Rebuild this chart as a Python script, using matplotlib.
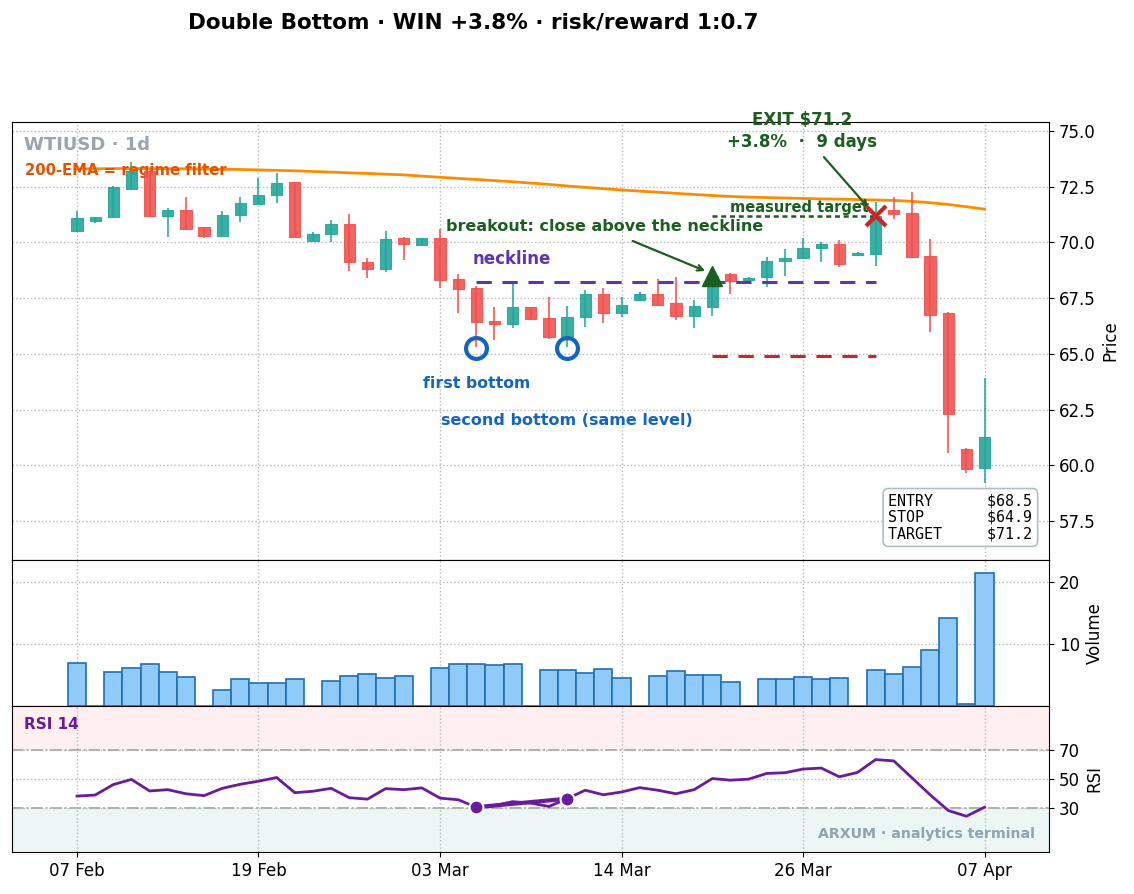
import matplotlib
matplotlib.use("Agg")
import matplotlib.pyplot as plt
import numpy as np

# ---------------- data ----------------
tick_pos = [0, 10, 20, 30, 40, 50]
tick_labels = ['07 Feb', '19 Feb', '03 Mar', '14 Mar', '26 Mar', '07 Apr']

opens = [70.51, 70.95, 71.13, 72.38, 73.22, 71.19, 71.46, 70.68, 70.29, 71.23,
         71.72, 72.13, 72.73, 70.08, 70.38, 70.83, 69.14, 68.81, 70.19, 69.89,
         70.21, 68.35, 67.94, 66.49, 66.34, 67.12, 66.60, 65.77, 66.67, 67.69,
         66.85, 67.42, 67.69, 67.27, 66.70, 67.12, 68.57, 68.33, 68.46, 69.18,
         69.32, 69.76, 69.92, 69.44, 69.48, 71.46, 71.31, 69.39, 66.82, 60.72,
         59.89]
highs = [71.42, 71.15, 72.52, 73.62, 73.25, 71.53, 72.03, 70.68, 71.41, 72.03,
         72.88, 73.10, 72.73, 70.46, 71.00, 71.26, 69.29, 70.51, 70.26, 70.21,
         70.59, 68.57, 68.05, 67.09, 68.19, 67.12, 67.57, 67.15, 67.87, 67.94,
         67.54, 67.79, 68.35, 68.46, 67.42, 68.55, 68.62, 68.45, 69.33, 69.69,
         70.21, 70.00, 70.11, 69.55, 71.80, 72.05, 72.28, 70.15, 66.89, 60.76,
         63.91]
lows = [70.50, 70.87, 71.10, 72.38, 71.19, 70.26, 70.55, 70.19, 70.29, 70.93,
        71.72, 71.76, 70.26, 70.05, 70.03, 68.73, 68.39, 68.66, 69.21, 69.89,
        67.94, 66.82, 65.32, 65.62, 66.15, 66.57, 65.65, 65.32, 66.19, 66.40,
        66.64, 67.42, 67.15, 66.52, 66.15, 66.70, 67.69, 68.32, 67.99, 68.51,
        69.24, 69.14, 68.91, 69.42, 68.94, 71.04, 69.30, 65.99, 60.54, 59.64,
        59.19]
closes = [71.08, 71.12, 72.50, 73.22, 71.19, 71.46, 70.60, 70.29, 71.25, 71.76,
          72.14, 72.68, 70.26, 70.38, 70.83, 69.11, 68.81, 70.14, 69.93, 70.21,
          68.32, 67.91, 66.42, 66.33, 67.09, 66.57, 65.77, 66.67, 67.69, 66.85,
          67.19, 67.69, 67.19, 66.70, 67.15, 68.50, 68.28, 68.42, 69.18, 69.29,
          69.76, 69.92, 69.02, 69.51, 71.20, 71.28, 69.33, 66.75, 62.30, 59.84,
          61.29]
ema200 = [73.30, 73.30, 73.31, 73.31, 73.31, 73.30, 73.30, 73.29, 73.28, 73.27,
          73.25, 73.23, 73.21, 73.18, 73.15, 73.12, 73.09, 73.06, 73.03, 72.97,
          72.92, 72.87, 72.82, 72.77, 72.72, 72.66, 72.60, 72.53, 72.47, 72.41,
          72.35, 72.30, 72.25, 72.20, 72.15, 72.10, 72.06, 72.03, 72.01, 71.99,
          71.97, 71.95, 71.94, 71.92, 71.90, 71.88, 71.84, 71.78, 71.70, 71.60,
          71.49]
volume = [6.9, 0.0, 5.4, 6.1, 6.7, 5.4, 4.6, 0.0, 2.5, 4.3,
          3.7, 3.7, 4.3, 0.0, 4.0, 4.8, 5.1, 4.5, 4.8, 0.0,
          6.1, 6.7, 6.7, 6.6, 6.7, 0.0, 5.8, 5.8, 5.3, 5.9,
          4.5, 0.0, 4.8, 5.6, 5.0, 5.0, 3.8, 0.0, 4.3, 4.3,
          4.6, 4.3, 4.5, 0.0, 5.8, 5.1, 6.2, 9.0, 14.1, 0.4,
          21.4]
rsi = [38.3, 39.0, 46.2, 49.7, 41.8, 42.7, 39.9, 38.6, 43.6, 46.4,
       48.5, 51.0, 40.6, 41.6, 43.6, 37.2, 36.2, 43.4, 42.7, 43.9,
       36.9, 35.8, 30.7, 31.8, 34.5, 33.5, 31.2, 36.5, 42.3, 39.2,
       41.1, 44.1, 42.3, 39.9, 42.7, 50.3, 49.2, 49.9, 53.8, 54.3,
       56.8, 57.5, 51.5, 54.5, 63.3, 62.4, 50.8, 39.2, 28.4, 24.5,
       30.7]

bottom_idx = [22, 27]
bottom_price = [65.27, 65.27]
neckline = 68.2
neck_start, neck_end = 22, 44
entry_idx, exit_idx = 35, 44
entry_price, stop_price, target_price = 68.5, 64.9, 71.2

# ---------------- figure ----------------
fig = plt.figure(figsize=(11.34, 8.94), dpi=100)
L, R = 12 / 1134, 1049 / 1134
def yf(p):
    return 1 - p / 894
ax = fig.add_axes([L, yf(560), R - L, yf(122) - yf(560)])
axv = fig.add_axes([L, yf(706), R - L, yf(560) - yf(706)], sharex=ax)
axr = fig.add_axes([L, yf(852), R - L, yf(706) - yf(852)], sharex=ax)

x = np.arange(len(closes))
o = np.array(opens); c = np.array(closes); h = np.array(highs); l = np.array(lows)
up = c >= o
GREEN, RED = '#26A69A', '#EF5350'
cols = [GREEN if u else RED for u in up]

grid_kw = dict(color='#b8b8b8', linestyle=':', linewidth=1.0)

# price panel
ax.plot(x, ema200, color='#FB8C00', lw=2.0, zorder=2)
ax.vlines(x, l, h, colors=cols, lw=1.5, alpha=0.8, zorder=3)
ax.bar(x, np.abs(c - o), bottom=np.minimum(o, c), width=0.62, color=cols,
       edgecolor=cols, lw=0.8, alpha=0.9, zorder=4)

ax.hlines(neckline, neck_start, neck_end, colors='#5E35B1', linestyles=(0, (5, 3.5)),
          lw=2.2, zorder=5)
ax.text(21.8, 69.26, 'neckline', color='#5E35B1', fontsize=12, fontweight='bold',
        ha='left', va='center')
ax.plot(bottom_idx, bottom_price, 'o', ms=15, mfc='none', mec='#1565C0', mew=3, zorder=6)
ax.text(22, 63.69, 'first bottom', color='#1565C0', fontsize=11.3, fontweight='bold',
        ha='center', va='center')
ax.text(27, 62.03, 'second bottom (same level)', color='#1565C0', fontsize=11.5,
        fontweight='bold', ha='center', va='center')

ax.hlines(stop_price, entry_idx, exit_idx, colors='#C62828', linestyles=(0, (5, 3.5)),
          lw=2.2, zorder=5)
ax.hlines(target_price, entry_idx, exit_idx, colors='#1B5E20', linestyles=(0, (2, 1.5)),
          lw=1.8, zorder=5)
ax.text(35.98, 71.55, 'measured target', color='#1B5E20', fontsize=10.5,
        fontweight='bold', ha='left', va='center')

ax.plot([entry_idx], [entry_price], '^', ms=14, color='#1B5E20', zorder=7)
ax.text(20.33, 70.69, 'breakout: close above the neckline', color='#1B5E20',
        fontsize=11.5, fontweight='bold', ha='left', va='center')
ax.annotate('', xy=(34.75, 68.67), xytext=(30.47, 70.11),
            arrowprops=dict(arrowstyle='->', color='#1B5E20', lw=1.6))

ax.plot([exit_idx], [target_price], 'x', ms=14, mew=3, color='#C62828', zorder=7)
ax.text(39.94, 74.98, 'EXIT $71.2\n+3.8%  ·  9 days', color='#1B5E20', fontsize=12,
        fontweight='bold', ha='center', va='center', multialignment='center',
        linespacing=1.3, clip_on=False, zorder=8)
ax.annotate('', xy=(43.7, 71.46), xytext=(41.05, 73.92),
            arrowprops=dict(arrowstyle='->', color='#1B5E20', lw=1.6))

ax.text(0.0116, 0.947, 'WTIUSD · 1d', transform=ax.transAxes, color='#9AA4AD',
        fontsize=13, fontweight='bold', ha='left', va='center')
ax.text(0.0125, 0.890, '200-EMA = regime filter', transform=ax.transAxes,
        color='#E65100', fontsize=10.7, fontweight='bold', ha='left', va='center')

stats = 'ENTRY      $68.5\nSTOP       $64.9\nTARGET     $71.2'
ax.text(0.984, 0.043, stats, transform=ax.transAxes, family='DejaVu Sans Mono',
        fontsize=10.8, ha='right', va='bottom', linespacing=1.1,
        bbox=dict(boxstyle='round,pad=0.35', fc='white', ec='#B0BEC5', lw=1.2))

ax.set_ylim(55.75, 75.40)
ax.set_yticks([57.5, 60.0, 62.5, 65.0, 67.5, 70.0, 72.5, 75.0])
ax.yaxis.tick_right()
ax.yaxis.set_label_position('right')
ax.set_ylabel('Price', fontsize=12)
ax.grid(True, **grid_kw)
ax.tick_params(axis='x', labelbottom=False, length=0)
ax.tick_params(axis='y', labelsize=12)

# volume panel
axv.bar(x, volume, width=1.0, color='#90CAF9', edgecolor='#1F6FB2', lw=1.2, zorder=3)
axv.set_ylim(0, 23.5)
axv.set_yticks([10, 20])
axv.yaxis.tick_right()
axv.yaxis.set_label_position('right')
axv.set_ylabel('Volume', fontsize=12)
axv.grid(True, **grid_kw)
axv.tick_params(axis='x', labelbottom=False, length=0)
axv.tick_params(axis='y', labelsize=12)

# RSI panel
axr.axhspan(70, 100, color='#FFCDD2', alpha=0.3, lw=0, zorder=0)
axr.axhspan(0, 30, color='#B2DFDB', alpha=0.25, lw=0, zorder=0)
axr.axhline(70, color='#A8A8A8', ls='-.', lw=1.3, zorder=1)
axr.axhline(30, color='#A8A8A8', ls='-.', lw=1.3, zorder=1)
axr.plot(x, rsi, color='#6A1B9A', lw=2.0, zorder=3)
axr.plot(bottom_idx, [rsi[i] for i in bottom_idx], color='#6A1B9A', lw=3.0, zorder=4)
axr.plot(bottom_idx, [rsi[i] for i in bottom_idx], 'o', ms=10, color='#6A1B9A',
         mec='white', mew=1.5, zorder=5)
axr.text(0.0116, 0.87, 'RSI 14', transform=axr.transAxes, color='#6A1B9A',
         fontsize=11, fontweight='bold', ha='left', va='center')
axr.text(0.9865, 0.123, 'ARXUM · analytics terminal', transform=axr.transAxes,
         color='#90A4AE', fontsize=10.2, fontweight='bold', ha='right', va='center')
axr.set_ylim(0, 100)
axr.set_yticks([30, 50, 70])
axr.yaxis.tick_right()
axr.yaxis.set_label_position('right')
axr.set_ylabel('RSI', fontsize=12)
axr.grid(True, **grid_kw)
axr.tick_params(axis='both', labelsize=12)

axr.set_xticks(tick_pos)
axr.set_xticklabels(tick_labels)
axr.set_xlim(-3.58, 53.55)

fig.text(473 / 1134, yf(22), 'Double Bottom · WIN +3.8% · risk/reward 1:0.7',
         fontsize=15.5, fontweight='bold', ha='center', va='center')

fig.savefig('out.png', dpi=100)
